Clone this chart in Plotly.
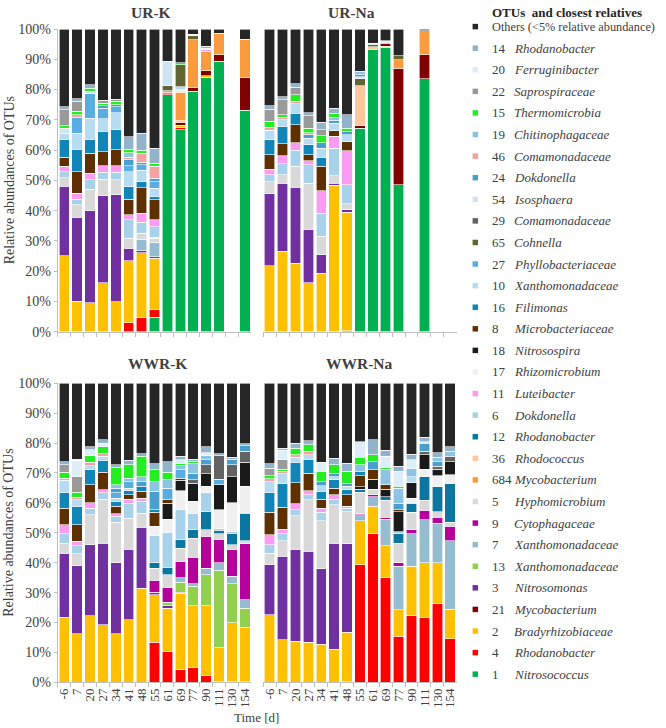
import plotly.graph_objects as go

N = None
CATEGORIES = ["-6", "7", "20", "27", "34", "41", "48", "55", "61", "69", "77", "90", "111", "130", "154"]

# stacking order, bottom -> top
OTU_ORDER = ["1", "4", "2", "21", "3", "13", "7", "9", "5", "684", "36", "12", "6", "11", "17",
             "18", "8", "16", "10", "27", "65", "29", "54", "24", "46", "19", "15", "22", "20", "14", "Others"]

OTU_NAMES = {
    "Others": "Others (<5% relative abundance)",
    "14": "Rhodanobacter", "20": "Ferruginibacter", "22": "Saprospiraceae", "15": "Thermomicrobia",
    "19": "Chitinophagaceae", "46": "Comamonadaceae", "24": "Dokdonella", "54": "Isosphaera",
    "29": "Comamonadaceae", "65": "Cohnella", "27": "Phyllobacteriaceae", "10": "Xanthomonadaceae",
    "16": "Filimonas", "8": "Microbacteriaceae", "18": "Nitrosospira", "17": "Rhizomicrobium",
    "11": "Luteibacter", "6": "Dokdonella", "12": "Rhodanobacter", "36": "Rhodococcus",
    "684": "Mycobacterium", "5": "Hyphomicrobium", "9": "Cytophagaceae", "7": "Xanthomonadaceae",
    "13": "Xanthomonadaceae", "3": "Nitrosomonas", "21": "Mycobacterium", "2": "Bradyrhizobiaceae",
    "4": "Rhodanobacter", "1": "Nitrosococcus",
}

OTU_COLORS = {
    "Others": "#262626", "14": "#93b3cb", "20": "#ddeef8", "22": "#9a9a9a", "15": "#22ee22",
    "19": "#8dc3e3", "46": "#f4a3a3", "24": "#4b9fcf", "54": "#cde5f3", "29": "#636363",
    "65": "#5f6633", "27": "#5aade0", "10": "#b7dcf2", "16": "#1185b8", "8": "#5e3000",
    "18": "#1a1a1a", "17": "#f0f0f0", "11": "#fb9cf2", "6": "#a8d2ea", "12": "#0b77a0",
    "36": "#fdc89d", "684": "#f99b3e", "5": "#d9d9d9", "9": "#b5009b", "7": "#96bccf",
    "13": "#92d050", "3": "#7030a0", "21": "#800000", "2": "#ffc000", "4": "#ff0000", "1": "#00b050",
}

UR_K = {
    "1": [0, 0, 0, 0, 0, 0, 0, 4.7, 78.3, 66.8, 79.4, 84.0, 89.3, N, 73.1],
    "4": [0, 0, 0, 0, 0, 3.0, 4.7, 2.5, 0.4, 0.6, 0, 0, 0, N, 0],
    "2": [25.0, 10.1, 9.6, 16.2, 9.9, 20.5, 21.4, 17.1, 0, 0.8, 0, 0.5, 0, N, 0],
    "21": [0, 0, 0, 0, 0, 0, 0, 0, 0.4, 1.0, 1.4, 1.8, 2.2, N, 11.0],
    "3": [23.0, 27.7, 30.4, 28.7, 35.3, 4.1, 0.7, 0.5, 0, 0, 0, 0, 0, N, 0],
    "7": [0, 0, 0, 0, 0, 0, 3.7, 4.6, 0.5, 0, 0, 0, 0, N, 0],
    "5": [2.9, 4.1, 7.1, 5.5, 5.0, 3.3, 2.0, 1.5, 0, 0.5, 0, 0, 0, N, 0],
    "684": [0, 0, 0, 0, 0, 0, 0, 0.3, 0, 9.5, 15.7, 6.3, 7.2, N, 12.6],
    "6": [2.0, 1.9, 3.1, 2.2, 2.4, 6.0, 3.6, 3.5, 0, 0, 0, 0, 0, N, 0],
    "11": [1.7, 2.0, 2.2, 2.2, 2.2, 1.8, 3.0, 2.2, 0, 0, 0, 0.6, 0, N, 0],
    "17": [0, 0, 0, 0, 0, 0, 0, 0, 0, 0.8, 0, 0, 0, N, 0],
    "8": [3.0, 7.1, 6.6, 4.7, 5.3, 5.0, 8.5, 6.7, 0, 0, 0, 0, 0, N, 0],
    "16": [6.0, 7.4, 4.6, 6.7, 6.6, 4.2, 2.0, 1.1, 0, 0, 0, 0, 0, N, 0],
    "10": [2.0, 5.3, 7.0, 4.1, 5.7, 5.0, 3.7, 2.7, 0, 1.0, 0, 0, 0, N, 0],
    "27": [0, 5.3, 8.2, 3.6, 2.0, 2.0, 1.8, 2.2, 0, 0, 0, 0, 0, N, 0],
    "65": [0, 0, 0, 0, 0, 0, 0, 0, 1.6, 7.2, 1.3, 0, 0, N, 0],
    "54": [1.1, 0, 0.6, 0, 0, 0, 0, 0, 8.1, 0, 0, 0, 0, N, 0],
    "24": [0, 0, 0, 0.7, 0.6, 2.0, 0.8, 1.1, 0, 0, 0, 0, 0, N, 0],
    "46": [0.6, 0.8, 0, 0, 0, 0.8, 3.1, 3.9, 0, 0, 0, 0, 0, N, 0],
    "19": [0, 0, 0, 0, 0, 1.5, 0, 0, 0, 0, 0, 0, 0, N, 0],
    "15": [0.8, 1.1, 1.1, 0.9, 1.1, 1.0, 0.9, 1.0, 0, 0.7, 0, 0, 0, N, 0],
    "22": [5.2, 3.3, 0, 0.9, 0.7, 0, 0, 0, 0, 0, 0, 0, 0, N, 0],
    "20": [0, 0, 0, 0, 0, 0, 0, 0, 0, 0, 0.5, 0.4, 0, N, 0],
    "14": [1.1, 0.9, 1.1, 0, 0, 4.2, 5.7, 5.0, 0, 0, 0, 0.8, 0, N, 0],
    "Others": [25.6, 23.0, 18.4, 23.6, 23.2, 35.5, 34.4, 39.4, 10.7, 11.1, 1.7, 5.6, 1.3, N, 3.3],
}

UR_NA = {
    "1": [0, 0, 0, 0, 0, 0, 0.3, 67.3, 93.4, 93.9, 48.5, N, 83.5, N, N],
    "2": [21.8, 26.5, 22.6, 16.2, 19.3, 48.3, 39.2, 0, 0, 0.4, 0, N, 0, N, N],
    "21": [0, 0, 0, 0, 0, 0, 0, 0.7, 0, 1.1, 38.6, N, 8.0, N, N],
    "3": [23.7, 22.6, 25.1, 17.6, 6.1, 0.8, 0.7, 0, 0, 0, 0, N, 0, N, N],
    "5": [4.1, 2.7, 6.9, 15.3, 6.2, 2.4, 2.0, 0, 0, 0, 0, N, 0, N, N],
    "684": [0, 0, 0, 0, 0, 0, 0, 0, 0, 0, 2.8, N, 7.9, N, N],
    "36": [0, 0, 0, 0, 0, 0, 0, 13.3, 0.8, 0, 0, N, 0, N, N],
    "6": [2.2, 3.7, 5.3, 6.0, 7.5, 9.1, 6.3, 0, 0, 0, 0, N, 0, N, N],
    "11": [1.9, 2.7, 2.6, 1.3, 7.5, 3.9, 11.3, 0, 0, 0, 0, N, 0, N, N],
    "8": [4.7, 3.9, 5.9, 2.0, 8.0, 1.9, 3.0, 0, 0, 0, 0, N, 0, N, N],
    "16": [5.0, 5.7, 3.8, 3.3, 3.1, 0, 0, 0, 0, 0, 0, N, 0, N, N],
    "10": [3.1, 2.2, 3.1, 2.2, 2.9, 2.5, 2.2, 0, 0, 0, 0, N, 0, N, N],
    "65": [0, 0, 0, 0, 0, 0, 0, 2.2, 0.8, 0, 1.3, N, 0, N, N],
    "54": [0, 0, 0, 0, 0, 0, 0, 0.8, 0, 0, 0, N, 0, N, N],
    "24": [0, 0, 0, 1.1, 1.9, 0.9, 1.2, 0.6, 0, 0, 0, N, 0, N, N],
    "46": [1.1, 0.8, 0.8, 0.8, 0, 0, 0, 0, 0, 0, 0, N, 0, N, N],
    "19": [0, 0, 0, 0, 0, 1.1, 0, 1.1, 0, 0, 0, N, 0, N, N],
    "15": [1.9, 0.9, 2.2, 1.5, 2.2, 1.3, 1.1, 0, 0, 0, 0, N, 0, N, N],
    "22": [4.0, 4.9, 2.5, 4.0, 2.0, 0, 0, 0, 0, 0, 0, N, 0, N, N],
    "20": [0, 0, 0, 0, 0, 0, 0, 0, 0.4, 0.8, 0, N, 0, N, N],
    "14": [1.1, 1.1, 1.1, 1.1, 2.5, 1.7, 4.4, 0, 0, 0, 0, N, 0, N, N],
    "Others": [25.4, 22.3, 18.1, 27.6, 30.8, 26.1, 28.3, 14.0, 4.6, 3.8, 8.8, N, 0.6, N, N],
}

WWR_K = {
    "4": [0, 0, 0, 0, 0, 0, 0, 13.4, 10.4, 4.2, 5.0, 2.2, 0.2, 0.3, 0.3],
    "2": [21.8, 16.3, 22.3, 19.3, 16.3, 20.9, 31.5, 15.9, 14.4, 25.6, 20.6, 23.4, 11.3, 19.7, 18.1],
    "21": [0, 0, 0, 0, 0, 0, 0, 0, 0, 0.4, 0, 0, 0, 0, 0],
    "3": [21.4, 22.7, 23.7, 27.2, 23.6, 23.6, 20.4, 0.8, 0.8, 0, 0, 0, 0, 0, 0],
    "13": [0, 0, 0, 0, 0, 0, 0, 0, 1.1, 3.2, 6.5, 10.4, 25.9, 13.0, 6.4],
    "7": [0, 0, 0, 0, 0, 0, 0, 0, 0, 1.5, 0.9, 2.2, 2.5, 2.4, 2.8],
    "9": [0, 0, 0, 0, 0, 0, 0, 4.0, 5.1, 5.5, 8.9, 10.6, 7.8, 8.9, 18.7],
    "5": [3.3, 4.0, 10.0, 14.7, 13.6, 10.4, 4.7, 4.1, 4.2, 4.5, 6.3, 2.2, 2.0, 1.7, 1.1],
    "12": [0, 0, 0, 0, 0, 0, 0, 1.7, 2.5, 2.8, 2.8, 6.1, 1.1, 3.9, 9.2],
    "6": [3.2, 2.7, 2.2, 2.1, 2.0, 5.0, 3.9, 9.1, 11.6, 10.0, 5.3, 6.2, 0.6, 0.5, 0],
    "11": [3.0, 1.4, 1.9, 1.1, 0.8, 1.3, 1.1, 0, 0, 0, 0, 0, 0, 0, 0],
    "17": [0, 0, 0, 0, 0, 0, 0, 3.1, 4.5, 6.4, 4.2, 2.2, 6.3, 9.7, 8.9],
    "18": [0, 0, 0, 0, 0, 0, 0, 0, 5.3, 3.4, 6.1, 4.2, 8.3, 8.7, 8.0],
    "8": [5.5, 5.6, 5.9, 5.8, 2.5, 1.5, 2.2, 4.7, 1.1, 0.8, 0, 0, 0, 0, 0],
    "16": [5.1, 6.1, 5.0, 4.0, 1.7, 1.3, 1.7, 0.9, 0, 0, 0, 0, 0, 0, 0],
    "10": [4.2, 2.2, 1.4, 1.3, 1.1, 0.9, 0, 0, 0, 0, 0, 0, 0, 0, 0],
    "27": [0, 0, 0, 0, 1.7, 2.2, 0, 0, 3.9, 2.7, 0, 0, 1.9, 0, 0],
    "29": [0, 0, 0, 0, 0, 0, 0, 0, 0, 0, 1.1, 3.0, 7.8, 3.9, 3.7],
    "24": [0, 0, 0, 0, 1.6, 0, 1.6, 6.1, 0, 0, 2.2, 1.7, 0, 1.9, 1.9],
    "46": [0.8, 0.8, 1.1, 0.9, 0, 0, 0, 0, 0, 0, 0, 0, 0, 0, 0],
    "19": [0, 0, 0, 0, 1.1, 1.2, 1.7, 3.3, 3.0, 1.4, 3.4, 1.3, 0, 0, 0],
    "15": [1.9, 1.7, 2.2, 2.3, 5.9, 4.4, 6.7, 3.9, 2.3, 0.9, 0.5, 0, 0, 0, 0],
    "22": [2.5, 5.3, 0, 0, 0, 0, 0, 0, 0, 0, 0, 0, 0, 0, 0],
    "20": [0, 5.4, 2.0, 1.3, 0, 0, 0, 0, 0, 1.1, 0, 1.1, 0, 0, 0],
    "14": [1.1, 0.4, 1.1, 1.1, 0.8, 1.5, 0.9, 2.1, 3.6, 1.1, 0.8, 2.0, 0.7, 0.7, 0.6],
    "Others": [26.2, 25.4, 21.2, 18.9, 27.3, 25.8, 23.6, 26.9, 26.2, 24.5, 25.4, 21.2, 23.6, 24.7, 20.3],
}

WWR_NA = {
    "4": [0, 0, 0, 0, 0, 0, 0.3, 39.3, 49.7, 35.2, 15.4, 22.3, 21.8, 26.5, 14.5],
    "2": [22.6, 14.3, 13.7, 13.4, 12.8, 11.1, 16.4, 14.8, 9.1, 10.5, 8.9, 16.5, 18.1, 13.4, 10.0],
    "3": [16.7, 27.8, 30.8, 30.4, 25.1, 35.4, 29.6, 0, 0, 0, 0, 0, 0, 0, 0],
    "7": [0, 0, 0, 0, 0, 0, 0, 1.9, 3.3, 8.9, 14.5, 10.9, 14.4, 13.3, 22.9],
    "9": [0, 0, 0, 0, 0, 0, 0, 0.4, 0.6, 0.6, 1.1, 1.3, 3.2, 2.0, 4.7],
    "5": [3.9, 5.3, 11.2, 17.2, 16.2, 12.9, 10.8, 7.1, 1.9, 5.6, 6.6, 5.8, 3.3, 1.9, 1.4],
    "12": [0, 0, 0, 0, 0, 0, 0, 1.1, 0, 1.3, 3.2, 3.1, 8.0, 8.2, 12.9],
    "6": [2.8, 2.3, 2.0, 1.7, 2.7, 1.8, 1.1, 0, 0, 0, 0.7, 0, 0, 0, 0],
    "11": [3.3, 1.5, 2.0, 1.4, 1.4, 1.5, 0.6, 0, 0, 0, 0, 0, 0, 0, 0],
    "17": [0, 0, 0, 0, 0, 0, 0, 0, 0, 0, 0, 1.7, 2.5, 3.7, 3.0],
    "18": [0, 0, 0, 0, 0, 0, 0, 0.7, 3.3, 2.5, 6.7, 5.2, 4.8, 2.3, 4.4],
    "8": [7.5, 7.4, 7.1, 5.8, 3.0, 2.2, 3.9, 3.7, 3.1, 1.4, 0.6, 0, 0, 0, 0],
    "16": [6.7, 7.8, 6.7, 4.7, 2.6, 2.8, 1.7, 1.5, 0, 0, 0, 0, 0, 0, 0],
    "10": [3.6, 3.3, 1.8, 1.5, 1.9, 1.1, 1.1, 0, 0, 0, 0, 2.0, 0, 0, 0],
    "29": [0, 0, 0, 0, 0, 0, 0, 0, 0, 0, 0, 0, 1.1, 0.9, 1.7],
    "24": [0, 0, 0, 0, 1.4, 1.1, 1.1, 0, 2.8, 0, 2.2, 0, 2.8, 1.6, 0],
    "46": [0.9, 0.8, 0.8, 1.1, 0, 0, 0, 0, 0, 0, 0, 0, 0, 0, 0],
    "19": [0, 0, 0, 0, 0, 0, 0, 2.2, 0, 5.3, 5.0, 2.8, 0, 1.5, 1.7],
    "15": [1.0, 0.8, 2.2, 2.2, 3.4, 2.8, 3.9, 2.6, 2.3, 0.6, 0.6, 0, 0, 0, 0],
    "22": [2.6, 3.1, 0, 0, 0, 0, 0, 0, 0, 0, 0, 0, 0, 0, 0],
    "20": [0, 3.1, 0, 0, 3.0, 0, 0, 5.2, 0, 3.6, 5.0, 2.8, 0.5, 0, 0],
    "14": [1.5, 0.8, 1.7, 1.4, 0, 2.2, 2.8, 0, 5.0, 2.0, 1.7, 1.9, 1.5, 1.5, 1.6],
    "Others": [26.9, 21.7, 20.0, 19.2, 26.5, 25.1, 26.7, 19.5, 18.9, 22.5, 27.8, 23.7, 18.0, 23.2, 21.2],
}

PANEL_TITLES = ["UR-K", "UR-Na", "WWR-K", "WWR-Na"]
PANEL_DATA = [UR_K, UR_NA, WWR_K, WWR_NA]

W, H = 666, 728
FONT = "Liberation Serif"
TXT = "#404040"

# observed vertical mapping of the rendered page (compensated here)
Y_OFF, Y_SCALE = 6.9, 0.98


def px_x(v):
    return v / W


def px_y(v):
    return 1 - ((v - Y_OFF) / Y_SCALE) / H


# plot-area rectangles in pixels (left, right, top, bottom)
RECTS = [(57, 251, 29, 331.7), (263, 457, 29, 331.7), (57, 251, 383.3, 682.7), (263, 457, 383.3, 682.7)]
TITLE_POS = [(150, 12), (352, 12), (157, 364), (360, 364)]

fig = go.Figure()
layout = dict(
    width=W, height=H, margin=dict(l=0, r=0, t=0, b=0),
    paper_bgcolor="white", plot_bgcolor="white",
    barmode="stack", bargap=0.19, showlegend=False,
    font=dict(family=FONT, color=TXT, size=13),
)
annotations = []
shapes = []

for p, (data, title, rect) in enumerate(zip(PANEL_DATA, PANEL_TITLES, RECTS)):
    suffix = "" if p == 0 else str(p + 1)
    for otu in OTU_ORDER:
        if otu not in data:
            continue
        vals = [v if v else None for v in data[otu]]
        fig.add_trace(go.Bar(
            x=CATEGORIES, y=vals, name=otu,
            marker=dict(color=OTU_COLORS[otu], line=dict(color="white", width=0.6)),
            xaxis="x" + suffix, yaxis="y" + suffix,
            hovertemplate=otu + " " + OTU_NAMES[otu] + ": %{y}%<extra></extra>",
        ))
    l, r, t, b = rect
    left_col = p in (0, 2)
    bottom_row = p in (2, 3)
    layout["xaxis" + suffix] = dict(
        domain=[px_x(l), px_x(r)], anchor="y" + suffix, type="category",
        categoryorder="array", categoryarray=CATEGORIES, range=[-0.5, 14.5],
        tickmode="linear", tick0=0, dtick=1,
        showline=True, linecolor="#c0c0c0", linewidth=1,
        ticks="outside", tickson="boundaries", ticklen=4, tickcolor="#c0c0c0",
        showticklabels=bottom_row, tickangle=-90,
        tickfont=dict(family=FONT, size=13, color=TXT),
        showgrid=False, zeroline=False,
    )
    layout["yaxis" + suffix] = dict(
        domain=[px_y(b), px_y(t)], anchor="x" + suffix, range=[0, 100],
        dtick=10, ticksuffix="%", showgrid=False, zeroline=False,
        showline=left_col, linecolor="#c0c0c0", linewidth=1,
        ticks="outside" if left_col else "", ticklen=3, tickcolor="#c0c0c0",
        showticklabels=left_col, tickfont=dict(family=FONT, size=14, color=TXT),
    )
    tx, ty = TITLE_POS[p]
    annotations.append(dict(
        x=px_x(tx), y=px_y(ty), xref="paper", yref="paper", text="<b>" + title + "</b>",
        showarrow=False, xanchor="center", yanchor="middle",
        font=dict(family=FONT, size=15.5, color="#404040"),
    ))
    if left_col:
        annotations.append(dict(
            x=px_x(8), y=px_y((t + b) / 2), xref="paper", yref="paper",
            text="Relative abundances of OTUs", textangle=-90, showarrow=False,
            xanchor="center", yanchor="middle", font=dict(family=FONT, size=14, color=TXT),
        ))

annotations.append(dict(
    x=px_x(256), y=px_y(718), xref="paper", yref="paper", text="Time [d]",
    showarrow=False, xanchor="center", yanchor="middle", font=dict(family=FONT, size=13, color=TXT),
))

# legend (drawn as annotations + shapes, top = last in stack)
annotations.append(dict(
    x=px_x(490), y=px_y(12), xref="paper", yref="paper", text="<b>OTUs  and closest relatives</b>",
    showarrow=False, xanchor="left", yanchor="middle", font=dict(family=FONT, size=13, color="#262626"),
))
legend_order = list(reversed(OTU_ORDER))
for i, otu in enumerate(legend_order):
    cy = 26.5 + i * 21.6
    shapes.append(dict(
        type="rect", xref="paper", yref="paper",
        x0=px_x(473), x1=px_x(478.5), y0=px_y(cy + 2.75), y1=px_y(cy - 2.75),
        fillcolor=OTU_COLORS[otu], line=dict(width=0),
    ))
    if otu == "Others":
        annotations.append(dict(
            x=px_x(490), y=px_y(cy), xref="paper", yref="paper", text=OTU_NAMES[otu],
            showarrow=False, xanchor="left", yanchor="middle", font=dict(family=FONT, size=12.3, color=TXT),
        ))
    else:
        annotations.append(dict(
            x=px_x(490), y=px_y(cy), xref="paper", yref="paper", text=otu,
            showarrow=False, xanchor="left", yanchor="middle", font=dict(family=FONT, size=13, color=TXT),
        ))
        annotations.append(dict(
            x=px_x(513), y=px_y(cy), xref="paper", yref="paper", text="<i>" + OTU_NAMES[otu] + "</i>",
            showarrow=False, xanchor="left", yanchor="middle", font=dict(family=FONT, size=13, color=TXT),
        ))

layout["annotations"] = annotations
layout["shapes"] = shapes
fig.update_layout(**layout)

PAGE_FIX = (
    "document.documentElement.style.margin='0';"
    "document.body.style.margin='0';"
    "document.documentElement.style.overflow='hidden';"
    "document.body.style.overflow='hidden';"
    "var gd=document.querySelector('.plotly-graph-div');"
    "gd.style.position='fixed';gd.style.top='0px';gd.style.left='0px';"
)
fig.write_html("out.html", config={"displayModeBar": False}, post_script=PAGE_FIX)
